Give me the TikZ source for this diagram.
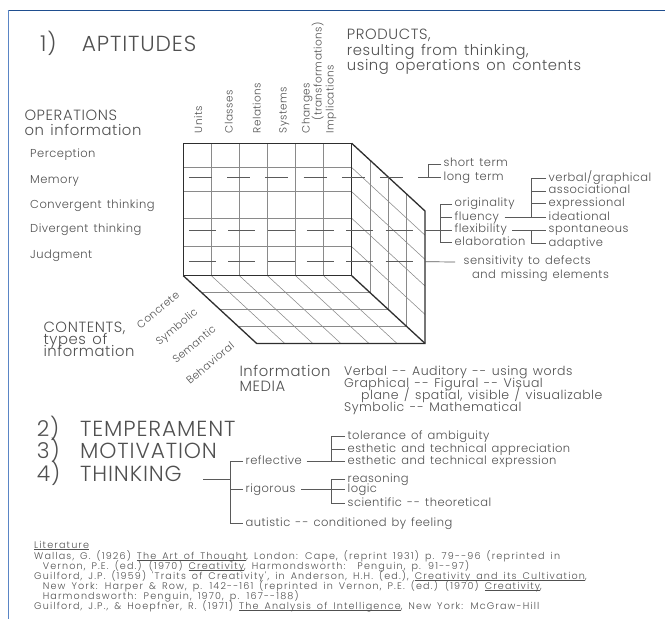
\documentclass[tikz,border=0pt]{standalone}
\usepackage{fontspec}
\IfFontExistsTF{Poppins Light}
 {\setmainfont{Poppins Light}[LetterSpace=4,WordSpace=1.4]
  \newfontfamily\litfont{Poppins Light}[LetterSpace=12,WordSpace=1.6]}
 {\setmainfont{Poppins}[LetterSpace=4,WordSpace=1.4]
  \newfontfamily\litfont{Poppins}[LetterSpace=12,WordSpace=1.6]}
\definecolor{txt}{HTML}{505050}
\definecolor{gridc}{HTML}{8A8A8A}
\definecolor{edgec}{HTML}{2E2E2E}
\definecolor{conc}{HTML}{5A5A5A}
\definecolor{bordertop}{HTML}{1F4E8F}
\definecolor{borderleft}{HTML}{5A85C5}
\newcommand\dd{-\hspace{1.2pt}-}
\newcommand\ulit[1]{\setbox0\hbox{#1}\rlap{\rule[-1.3pt]{\wd0}{0.45pt}}\box0}
\begin{document}
\begin{tikzpicture}[x=1pt,y=-1pt,
  lbl/.style={inner sep=0pt, text=txt},
  hugel/.style={lbl, font=\fontsize{21.8}{24}\selectfont, anchor=base west},
  mhead/.style={lbl, font=\fontsize{14.8}{16}\selectfont, anchor=base west},
  rowl/.style={lbl, font=\fontsize{11.5}{13}\selectfont, anchor=mid west},
  coll/.style={lbl, font=\fontsize{10.5}{12}\selectfont, rotate=90, anchor=base west},
  depl/.style={lbl, font=\fontsize{10.5}{12}\selectfont, rotate=40, anchor=mid east},
  brl/.style={lbl, font=\fontsize{11.5}{13}\selectfont, anchor=mid west, inner xsep=2.5pt},
  medl/.style={lbl, font=\fontsize{12.5}{14}\selectfont, anchor=base west},
  litl/.style={lbl, font=\litfont\fontsize{9.6}{11}\selectfont, anchor=base west},
  con/.style={line width=0.7pt, draw=conc},
  gridline/.style={line width=0.55pt, draw=gridc},
  edgeline/.style={line width=1.3pt, draw=edgec, line join=miter},
  dashmem/.style={con, dash pattern=on 23pt off 15.2pt},
  dashdiv/.style={con, dash pattern=on 27pt off 12.3pt}
]
\useasboundingbox (0,0) rectangle (665,619);
\fill[white] (0,0) rectangle (665,619);
% border
\draw[bordertop, line width=1.5pt] (7.5,10.5) -- (665,10.5);
\draw[borderleft, line width=1.2pt] (8.3,10) -- (8.3,619);

% ---------- cube ----------
\foreach \i in {1,...,5}
  \draw[gridline] ({183.3+28.067*\i},143.3) -- ({183.3+28.067*\i},275.7);
\foreach \y in {167.5,191.7,218.3,246.7}
  \draw[gridline] (183.3,\y) -- (351.7,\y);
\foreach \k in {1,2,3}
  \draw[gridline] ({351.7+18.325*\k},{143.3+16.925*\k}) -- ({351.7+18.325*\k},{275.7+16.925*\k});
\foreach \y in {167.5,191.7,218.3,246.7}
  \draw[gridline] (351.7,\y) -- (425,{\y+67.7});
\foreach \k in {1,2,3}
  \draw[gridline] ({183.3+18.325*\k},{275.7+16.925*\k}) -- ({351.7+18.325*\k},{275.7+16.925*\k});
\foreach \i in {1,...,5}
  \draw[gridline] ({183.3+28.067*\i},275.7) -- ++(73.3,67.7);
\draw[edgeline] (183.3,143.3) rectangle (351.7,275.7);
\draw[edgeline] (351.7,143.3) -- (425,211) -- (425,343.4) -- (256.6,343.4) -- (183.3,275.7);
\draw[edgeline] (351.7,275.7) -- (425,343.4);

% dashed row lines
\draw[dashmem] (189,177.7) -- (418,177.7);
\draw[dashdiv] (189,230) -- (424.8,230);
\draw[dashdiv] (189,261.7) -- (424.8,261.7);

% ---------- headings ----------
\node[hugel] (n1) at (40,51.5) {1)};
\node[hugel] (apt) at (81.7,51.5) {APTITUDES};
\node[mhead] (prod1) at (346.7,39) {PRODUCTS,};
\node[mhead] (prod2) at (346.7,55) {resulting from thinking,};
\node[mhead] (prod3) at (346.7,70.7) {using operations on contents};
\node[mhead] (oper1) at (24.3,120.7) {OPERATIONS};
\node[mhead] (oper2) at (24.3,135) {on information};

% row labels
\node[rowl] (r1) at (30,155.2) {Perception};
\node[rowl] (r2) at (30,181.2) {Memory};
\node[rowl] (r3) at (30,205.5) {Convergent thinking};
\node[rowl] (r4) at (30,230.2) {Divergent thinking};
\node[rowl] (r5) at (30,255.5) {Judgment};

% column labels
\node[coll] (c1) at (202,133.3) {Units};
\node[coll] (c2) at (232.5,133.3) {Classes};
\node[coll] (c3) at (260.5,133.3) {Relations};
\node[coll] (c4) at (286.5,133.3) {Systems};
\node[coll] (c5) at (309.5,133.3) {Changes};
\node[coll] (c5b) at (321.5,121) {(transformations)};
\node[coll] (c6) at (333.5,133.3) {Implications};

% depth labels
\node[depl] (d1) at (178.5,294) {Concrete};
\node[depl] (d2) at (196.8,311) {Symbolic};
\node[depl] (d3) at (215,328) {Semantic};
\node[depl] (d4) at (233.4,345) {Behavioral};

\node[mhead] (cont1) at (43.3,332.7) {CONTENTS,};
\node[mhead] (cont2) at (43.3,344.5) {types of};
\node[mhead] (cont3) at (43.3,356) {information};

\node[mhead] (inf1) at (239.3,376.7) {Information};
\node[mhead] (inf2) at (239.3,391.7) {MEDIA};
\node[medl] (m1) at (344,375) {Verbal \dd{} Auditory \dd{} using words};
\node[medl] (m2) at (344,387) {Graphical \dd{} Figural \dd{} Visual};
\node[medl] (m3) at (361,399) {plane / spatial, visible / visualizable};
\node[medl] (m4) at (344,411) {Symbolic \dd{} Mathematical};

% ---------- memory bracket ----------
\node[brl] (st) at (441,164) {short term};
\node[brl] (lt) at (441,177.7) {long term};
\coordinate (mj) at (428.3,177.7);
\coordinate (mdash) at (418,177.7);
\draw[con] (st.mid west) -| (mj);
\draw[con] (mdash) -- (lt.mid west);

% ---------- divergent bracket ----------
\node[brl] (orig) at (452,204) {originality};
\node[brl] (flu) at (452,217.3) {fluency};
\node[brl] (flex) at (452,230) {flexibility};
\node[brl] (elab) at (452,242.7) {elaboration};
\coordinate (dv) at (440,230);
\coordinate (ddash) at (424.8,230);
\draw[con] (orig.mid west) -- (orig.mid west -| dv) -- (elab.mid west -| dv) -- (elab.mid west);
\draw[con] (flu.mid west -| dv) -- (flu.mid west);
\draw[con] (ddash) -- (flex.mid west);

\node[brl] (verb) at (546,178.3) {verbal/graphical};
\node[brl] (assoc) at (546,191) {associational};
\node[brl] (expr) at (546,203.7) {expressional};
\node[brl] (idea) at (546,217.3) {ideational};
\coordinate (fv) at (531.7,217.3);
\draw[con] ([xshift=3pt]flu.mid east) -- (idea.mid west);
\draw[con] (verb.mid west) -| (fv);
\draw[con] (assoc.mid west -| fv) -- (assoc.mid west);
\draw[con] (expr.mid west -| fv) -- (expr.mid west);

\node[brl] (spont) at (546,230) {spontaneous};
\node[brl] (adapt) at (546,243.3) {adaptive};
\coordinate (xv) at (531.7,230);
\draw[con] ([xshift=3pt]flex.mid east) -- (spont.mid west);
\draw[con] (xv) |- (adapt.mid west);

% ---------- sensitivity ----------
\node[brl] (sens1) at (461,262) {sensitivity to defects};
\node[brl] (sens2) at (469.5,275.5) {and missing elements};
\coordinate (jdash) at (424.8,261.7);
\draw[con] (jdash) -- ([xshift=-6pt]sens1.mid west);

% ---------- 2) 3) 4) ----------
\node[hugel] (n2) at (36.7,436) {2)};
\node[hugel] (temp) at (80,436) {TEMPERAMENT};
\node[hugel] (n3) at (36.7,458.5) {3)};
\node[hugel] (moti) at (80,458.5) {MOTIVATION};
\node[hugel] (n4) at (36.7,481) {4)};
\node[hugel] (think) at (80,481) {THINKING};

\coordinate (tstart) at (203,479);
\coordinate (tv) at (230,479);
\node[brl] (refl) at (243,461.7) {reflective};
\node[brl] (rig) at (243,489.5) {rigorous};
\node[brl] (aut) at (243,523.5) {autistic \dd{} conditioned by feeling};
\draw[con] (tstart) -- (tv);
\draw[con] (refl.mid west) -| (aut.mid west -| tv) -- (aut.mid west);
\draw[con] (rig.mid west -| tv) -- (rig.mid west);

\node[brl] (tol) at (345,436.7) {tolerance of ambiguity};
\node[brl] (app) at (345,449.3) {esthetic and technical appreciation};
\node[brl] (expn) at (345,461.7) {esthetic and technical expression};
\coordinate (rv) at (331.7,461.7);
\draw[con] ([xshift=2pt]refl.mid east) -- (expn.mid west);
\draw[con] (tol.mid west) -| (rv);
\draw[con] (app.mid west -| rv) -- (app.mid west);

\node[brl] (reas) at (345,479.3) {reasoning};
\node[brl] (logi) at (345,489.5) {logic};
\node[brl] (sci) at (345,503.7) {scientific \dd{} theoretical};
\coordinate (gv) at (331.7,489.5);
\draw[con] ([xshift=3pt]rig.mid east) -- (logi.mid west);
\draw[con] (reas.mid west) -| (sci.mid west -| gv) -- (sci.mid west);

% ---------- literature ----------
\node[litl] (lit0) at (34,548.5) {\ulit{Literature}};
\node[litl] (lit1) at (34,559) {Wallas, G. (1926) \ulit{The Art of Thought}, London: Cape, (reprint 1931) p. 79\dd96 (reprinted in};
\node[litl] (lit2) at (42.6,569.3) {Vernon, P.E. (ed.) (1970) \ulit{Creativity}, Harmondsworth:\ \ Penguin, p. 91\dd97)};
\node[litl] (lit3) at (34,579.5) {Guilford, J.P. (1959) 'Traits of Creativity', in Anderson, H.H. (ed.), \ulit{Creativity and its Cultivation},};
\node[litl] (lit4) at (42.6,589.5) {New York: Harper \& Row, p. 142\dd161 (reprinted in Vernon, P.E. (ed.) (1970) \ulit{Creativity},};
\node[litl] (lit5) at (42.6,599.3) {Harmondsworth: Penguin, 1970, p. 167\dd188)};
\node[litl] (lit6) at (34,609.5) {Guilford, J.P., \& Hoepfner, R. (1971) \ulit{The Analysis of Intelligence}, New York: McGraw-Hill};
\end{tikzpicture}
\end{document}
